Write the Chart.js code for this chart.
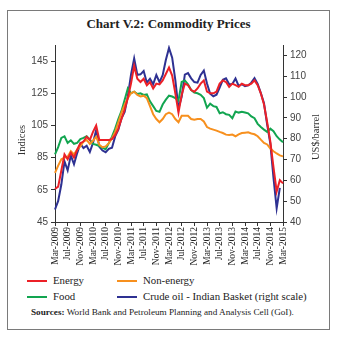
<!DOCTYPE html>
<html>
<head>
<meta charset="utf-8">
<script src="https://cdn.jsdelivr.net/npm/chart.js@4"></script>
<style>
  html, body { margin:0; padding:0; background:#fff; }
  body { width:343px; height:339px; position:relative; overflow:hidden; font-family:"Liberation Serif", serif; }
  #frame { position:absolute; left:7px; top:10px; width:323px; height:320px; border:1.5px solid #7a7a7a; box-sizing:border-box; }
  #title { position:absolute; left:0; width:337px; top:16px; text-align:center; font-weight:bold; font-size:13px; color:#222; }
  #wrap { position:absolute; left:8px; top:36px; width:315px; height:232px; }
  .leg { position:absolute; font-size:10.8px; color:#222; line-height:12px; white-space:nowrap; }
  .sw { position:absolute; width:20px; height:2px; }
  #src { position:absolute; left:31px; top:307px; font-size:9.2px; color:#222; white-space:nowrap; }
</style>
</head>
<body>
<div id="frame"></div>
<div id="title">Chart V.2: Commodity Prices</div>
<div id="wrap"><canvas id="c" width="315" height="232"></canvas></div>
<div id="legend"></div>
<div id="src"><b>Sources:</b> World Bank and Petroleum Planning and Analysis Cell (GoI).</div>
<script>
const months = [];
(function(){
  const mn = ['Jan','Feb','Mar','Apr','May','Jun','Jul','Aug','Sep','Oct','Nov','Dec'];
  for (let y = 2009; y <= 2015; y++) for (let m = 0; m < 12; m++) {
    if ((y === 2009 && m < 2) || (y === 2015 && m > 2)) continue;
    months.push(mn[m] + '-' + y);
  }
})();
const tickLabels = ['Mar-2009','Jul-2009','Nov-2009','Mar-2010','Jul-2010','Nov-2010','Mar-2011','Jul-2011','Nov-2011','Mar-2012','Jul-2012','Nov-2012','Mar-2013','Jul-2013','Nov-2013','Mar-2014','Jul-2014','Nov-2014','Mar-2015'];
const leftTicks = [45, 65, 85, 105, 125, 145];
const rightTicks = [40, 50, 60, 70, 80, 90, 100, 110, 120];

const energy = [65.5,67,77,87,84,88,85,90,94,95,98,96,101,105,96,96,96,96,96.5,99,103,109,115,122,131,142,134,132,134,130,132,128,131,130.5,133,137,141,136,125,113,124,131,130,127,126,128,131,133,126,125,125,126,131,133,132,129,131,130,129,131,130,130,131,133,130,125,118,107,95,79,64,71,69];
const nonEnergy = [75.5,80,84,85,85.5,89,87,90,92,95,96,93.5,95.5,98,93,91.5,92,94,97,101,107,113,118,122,125,126,124,123,123.5,122,117,112,109,107,109,112,113,112,109,107,111,111,111,109,108.5,109,109,107.5,104,103,102.4,101.8,101,100.3,99.3,99,99.3,98.3,99.5,100.3,100.5,100.7,100,99.5,98.3,96.2,94.2,93.2,90.7,89,87.6,86.4,85.8];
const food = [87,91.5,97.3,98.3,94.2,95.8,93.6,94.2,96.5,97.3,98.3,96.2,93.5,93,92.1,91.1,90.2,94,98,103,109,114,121,128,125,126,124.5,125,124,124.3,120,117,114,113.5,118,121,123.5,123,122,120.5,132,133,130.5,127,125.5,125,124,122,116,118.5,117,116.5,112.6,113.2,112,111.6,109.5,113.7,113,113.5,113,112.5,110.6,109.5,106,104,102.4,101,103,101.4,98.3,96.2,94.5];
const crudeOil = [46.0,50.1,58.0,69.1,64.8,72.0,67.7,73.1,77.6,75.5,76.6,73.6,78.0,84.1,76.1,74.3,73.5,75.1,75.7,81.1,84.3,89.8,92.9,100.4,110.7,118.5,110.7,110.9,112.5,106.9,108.8,106.1,110.6,107.2,110.5,117.8,123.6,118.9,108.1,94.5,100.1,110.8,111.5,109.0,107.2,106.9,110.6,112.7,106.5,101.6,100.4,101.1,104.5,108.3,109.0,106.2,106.3,108.9,105.4,106.2,105.2,105.6,106.9,109.1,106.3,101.9,97.0,86.8,77.6,61.2,46.6,56.4,null];

const COLORS = { energy:'#ec2027', nonEnergy:'#f7901e', food:'#12a550', crude:'#2e3192' };

// HTML legend
const legendItems = [
  { text:'Energy', color:COLORS.energy, x:27, y:281 },
  { text:'Non-energy', color:COLORS.nonEnergy, x:117, y:281 },
  { text:'Food', color:COLORS.food, x:27, y:297 },
  { text:' Crude oil - Indian Basket (right scale)', color:COLORS.crude, x:117, y:297 }
];
const lg = document.getElementById('legend');
legendItems.forEach(it => {
  const s = document.createElement('div');
  s.className = 'sw'; s.style.left = it.x + 'px'; s.style.top = (it.y - 1) + 'px'; s.style.background = it.color;
  lg.appendChild(s);
  const t = document.createElement('div');
  t.className = 'leg'; t.style.left = (it.x + 26) + 'px'; t.style.top = (it.y - 7) + 'px'; t.textContent = it.text;
  lg.appendChild(t);
});

const axisTitles = {
  id:'axisTitles',
  afterDraw(chart){
    const c = chart.ctx;
    const draw = (txt, x, y) => {
      c.save();
      c.translate(x, y);
      c.rotate(-Math.PI/2);
      c.font = '10.5px "Liberation Serif"';
      c.fillStyle = '#333';
      c.textAlign = 'center';
      c.textBaseline = 'middle';
      c.fillText(txt, 0, 0);
      c.restore();
    };
    draw('Indices', 14, 104);
    draw('US$/barrel', 308, 101);
  }
};

const tickFont = { family:'Liberation Sans', size:10 };
new Chart(document.getElementById('c'), {
  type:'line',
  data:{
    labels: months,
    datasets:[
      { label:'Energy', data:energy, borderColor:COLORS.energy, yAxisID:'y' },
      { label:'Non-energy', data:nonEnergy, borderColor:COLORS.nonEnergy, yAxisID:'y' },
      { label:'Food', data:food, borderColor:COLORS.food, yAxisID:'y' },
      { label:'Crude oil - Indian Basket (right scale)', data:crudeOil, borderColor:COLORS.crude, yAxisID:'y1' }
    ]
  },
  options:{
    responsive:false, animation:false,
    layout:{ padding:{ top:7, left:0, right:0, bottom:0 } },
    plugins:{ legend:{ display:false }, tooltip:{ enabled:false } },
    elements:{ point:{ radius:0 }, line:{ borderWidth:2, tension:0, fill:false } },
    scales:{
      x:{
        type:'category', offset:false,
        grid:{ drawOnChartArea:false, tickLength:4, color:'#333' },
        border:{ color:'#333', width:1 },
        ticks:{ autoSkip:false, maxRotation:90, minRotation:90, padding:1, color:'#222',
                font:{ family:'Liberation Serif', size:9.5 } },
        afterBuildTicks: s => { s.ticks = s.ticks.filter(t => tickLabels.includes(months[t.value])); },
        afterFit: s => { s.height = 46; }
      },
      y:{
        position:'left', min:45, max:155,
        grid:{ drawOnChartArea:false, tickLength:4, color:'#333' },
        border:{ color:'#333', width:1 },
        ticks:{ padding:3, color:'#444', font:tickFont },
        afterBuildTicks: s => { s.ticks = leftTicks.map(v => ({ value:v })); },
        afterFit: s => { s.width = 47; }
      },
      y1:{
        position:'right', min:40, max:125,
        grid:{ drawOnChartArea:false, tickLength:4, color:'#333' },
        border:{ color:'#333', width:1 },
        ticks:{ padding:3, color:'#444', font:tickFont },
        afterBuildTicks: s => { s.ticks = rightTicks.map(v => ({ value:v })); },
        afterFit: s => { s.width = 40; }
      }
    }
  },
  plugins:[axisTitles]
});
</script>
</body>
</html>
